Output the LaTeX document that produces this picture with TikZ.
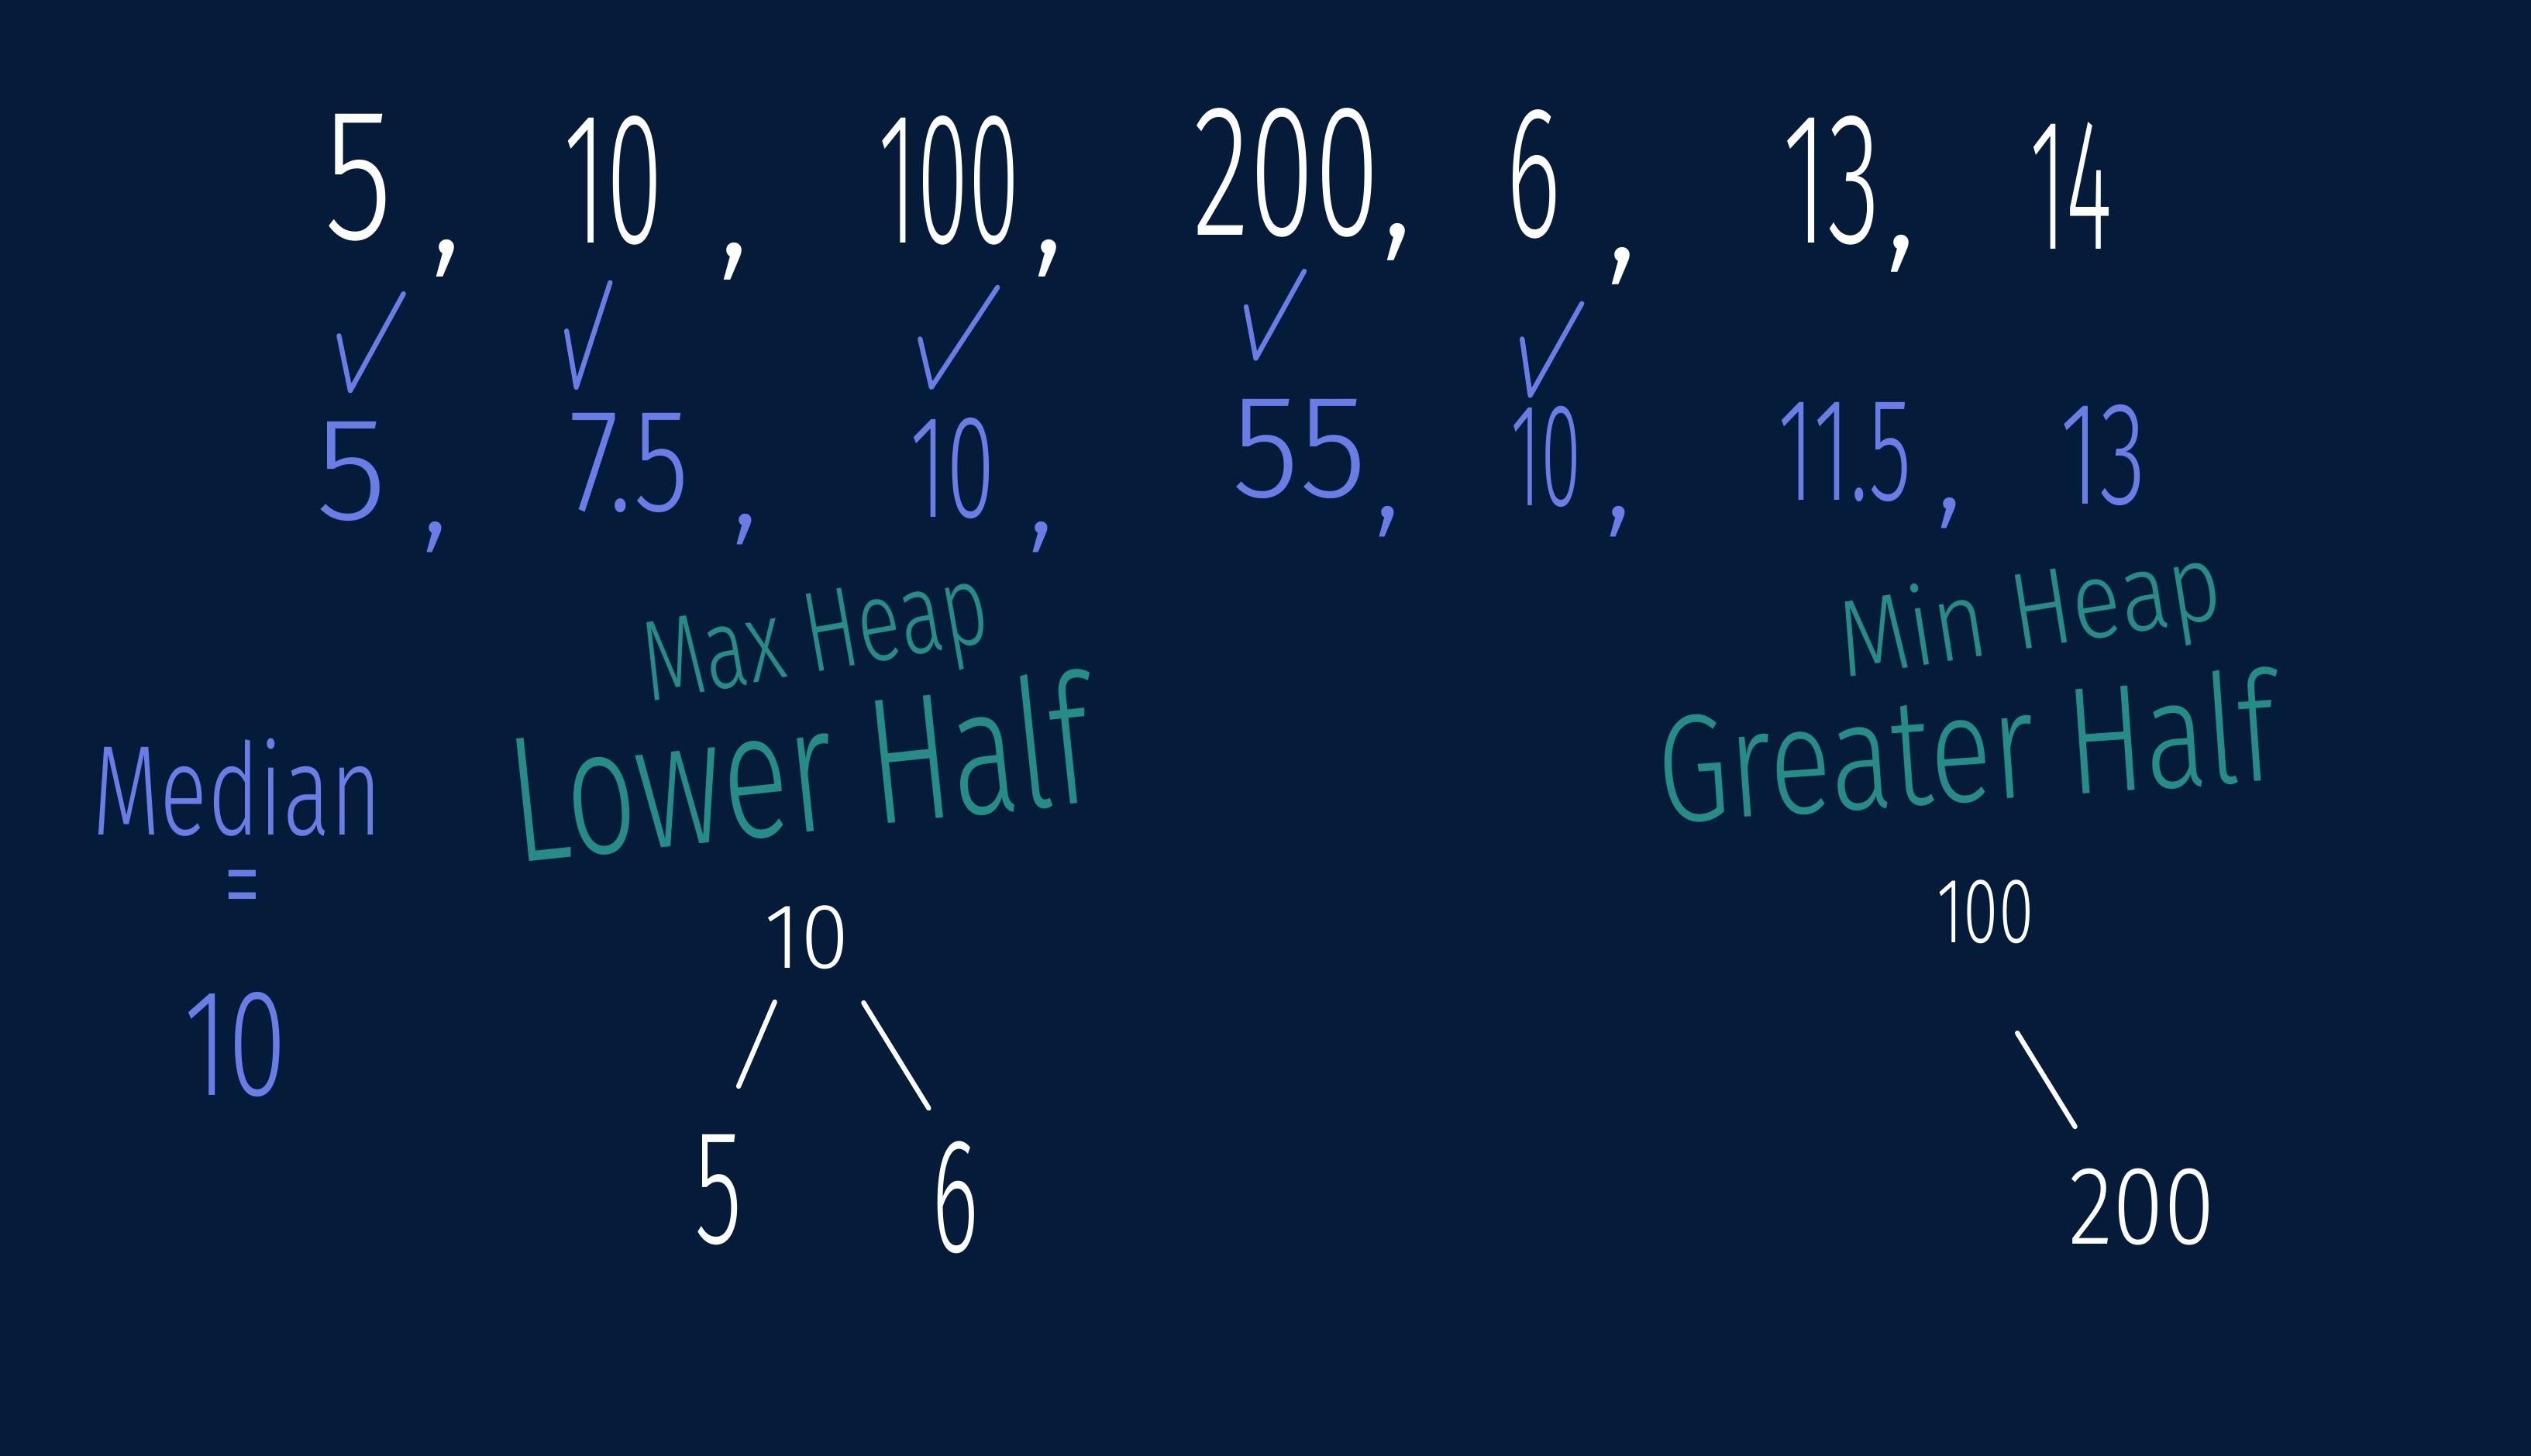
\documentclass[tikz,border=0pt]{standalone}
\usepackage{graphicx}
\usepackage{fontspec}
\setmainfont{Fira Sans Light}
\usetikzlibrary{calc}
\definecolor{bgnavy}{RGB}{4,28,58}
\definecolor{inkblue}{RGB}{106,125,230}
\definecolor{inkteal}{RGB}{38,140,135}
\newcommand\hwx[2]{\scalebox{#1}[1]{#2}}
\newcommand\fsz[1]{\fontsize{#1}{#1}\selectfont}
\tikzset{
  toprow/.style={text=white,inner sep=0pt,font=\fsz{69}},
  topcomma/.style={text=white,inner sep=0pt,font=\fsz{58}},
  midrow/.style={text=inkblue,inner sep=0pt,font=\fsz{54}},
  midcomma/.style={text=inkblue,inner sep=0pt,font=\fsz{48}},
  lbl/.style={text=inkteal,inner sep=0pt},
  ink/.style={line width=1.8pt,line cap=round,line join=round},
  checkmark/.style={ink,draw=inkblue},
  treeedge/.style={ink,draw=white},
  treenum/.style={text=white,inner sep=0pt}
}
\begin{document}
\begin{tikzpicture}[x=0.020829cm,y=-0.020829cm]
\useasboundingbox (0,0) rectangle (1568,902);
\fill[bgnavy] (0,0) rectangle (1568,902);

% top row
\node[toprow] (a1) at (222,110) {\hwx{0.75}{5}};
\node[toprow] (a2) at (380,112) {\hwx{0.55}{10}};
\node[toprow] (a3) at (588,112) {\hwx{0.5}{100}};
\node[toprow] (a4) at (797,107) {\hwx{0.63}{200}};
\node[toprow] (a5) at (950,108) {\hwx{0.56}{6}};
\node[toprow] (a6) at (1135,112) {\hwx{0.58}{13}};
\node[toprow] (a7) at (1283,115) {\hwx{0.47}{14}};
\node[topcomma] (c1) at (277,160) {,};
\node[topcomma] (c2) at (455,162) {,};
\node[topcomma] (c3) at (650,160) {,};
\node[topcomma] (c4) at (866,150) {,};
\node[topcomma] (c5) at (1005,165) {,};
\node[topcomma] (c6) at (1178,157) {,};

% check marks
\draw[checkmark] (210,208) -- (217,242) -- (250,182);
\draw[checkmark] (351,205) -- (357,240) -- (378,175);
\draw[checkmark] (570,210) -- (577,240) -- (618,178);
\draw[checkmark] (772,190) -- (778,222) -- (808,168);
\draw[checkmark] (943,210) -- (948,245) -- (980,188);

% second row
\node[midrow] (b1) at (218,292) {5};
\node[midrow] (b2) at (390,287) {\hwx{0.78}{7.5}};
\node[midrow] (b3) at (590,290) {\hwx{0.6}{10}};
\node[midrow] (b4) at (805,278) {\hwx{0.95}{55}};
\node[midrow] (b5) at (958,283) {\hwx{0.5}{10}};
\node[midrow] (b6) at (1143,280) {\hwx{0.6}{11.5}};
\node[midrow] (b7) at (1303,282) {\hwx{0.65}{13}};
\node[midcomma] (d1) at (270,333) {,};
\node[midcomma] (d2) at (462,328) {,};
\node[midcomma] (d3) at (645,333) {,};
\node[midcomma] (d4) at (860,323) {,};
\node[midcomma] (d5) at (1003,323) {,};
\node[midcomma] (d6) at (1208,318) {,};

% median
\node[text=inkblue,inner sep=0pt,font=\fsz{47}] (med) at (147,488) {\hwx{0.69}{Median}};
\node[text=inkblue,inner sep=0pt,font=\fsz{47}] (eq) at (150,557) {\hwx{0.6}{=}};
\node[text=inkblue,inner sep=0pt,font=\fsz{56}] (medv) at (146,647) {\hwx{0.7}{10}};

% heap labels
\node[lbl,font=\fsz{42},rotate=10] (maxh) at (506,399) {\hwx{0.7}{Max Heap}};
\node[lbl,font=\fsz{66},rotate=6] (lowh) at (495,475) {\hwx{0.69}{Lower Half}};
\node[lbl,font=\fsz{40},rotate=9] (minh) at (1258,383) {\hwx{0.84}{Min Heap}};
\node[lbl,font=\fsz{56},rotate=4] (greh) at (1218,462) {\hwx{0.76}{Greater Half}};

% max heap tree
\node[treenum,font=\fsz{34}] (t10) at (500,581) {\hwx{0.95}{10}};
\node[treenum,font=\fsz{60}] (t5) at (445,737) {\hwx{0.6}{5}};
\node[treenum,font=\fsz{60}] (t6) at (592,742) {\hwx{0.55}{6}};
\draw[treeedge] ($(t10)!0.255!(t5)+(-6,0)$) -- ($(t10)!0.59!(t5)+(-10,0)$);
\draw[treeedge] ($(t10)!0.25!(t6)+(12,0)$) -- ($(t10)!0.656!(t6)+(15,0)$);

% min heap tree
\node[treenum,font=\fsz{34}] (h100) at (1230,565) {\hwx{0.69}{100}};
\node[treenum,font=\fsz{41}] (h200) at (1327,748) {\hwx{0.83}{200}};
\draw[treeedge] ($(h100)!0.41!(h200)+(-20,0)$) -- ($(h100)!0.727!(h200)+(-15,0)$);
\end{tikzpicture}
\end{document}
